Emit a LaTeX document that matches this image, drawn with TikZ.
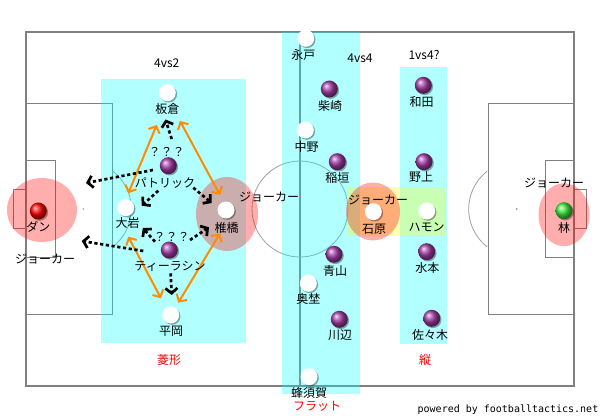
\documentclass[tikz,border=0pt]{standalone}
\usepackage{fontspec}
\newfontfamily\jpf{Noto Sans CJK JP}
\newfontfamily\monof{DejaVu Sans Mono}
\usetikzlibrary{arrows.meta,shadows}
\definecolor{lineg}{RGB}{128,128,128}
\definecolor{thing}{RGB}{160,160,160}
\definecolor{orng}{RGB}{255,140,0}
\definecolor{purp}{RGB}{165,60,165}
\definecolor{grn}{RGB}{60,235,60}
\definecolor{cyn}{RGB}{0,255,255}
\definecolor{ylw}{RGB}{255,255,0}
\definecolor{rd}{RGB}{255,0,0}
\begin{document}
\begin{tikzpicture}[x=1pt,y=-1pt,
  pitchline/.style={draw=lineg, line width=1.1},
  thinline/.style={draw=thing, line width=0.8},
  band/.style={fill=cyn, fill opacity=0.3, draw=none},
  zone/.style={fill=rd, fill opacity=0.32, draw=none},
  yzone/.style={fill=ylw, fill opacity=0.3, draw=none},
  shad/.style={drop shadow={shadow xshift=1.3pt, shadow yshift=-1.3pt, fill=black, opacity=0.35}},
  wball/.style={circle, minimum size=17, inner sep=0, fill=white, shad},
  pball/.style={circle, minimum size=17, inner sep=0, ball color=purp, shad},
  rball/.style={circle, minimum size=17, inner sep=0, ball color=rd, shad},
  gball/.style={circle, minimum size=17, inner sep=0, ball color=grn, shad},
  lbl/.style={font=\jpf\fontsize{12}{14}\selectfont, inner sep=0},
  rlbl/.style={lbl, text=rd},
  oarr/.style={draw=orng, line width=2, {Straight Barb[length=5.5pt,width=12pt]}-{Straight Barb[length=5.5pt,width=12pt]}},
  darr/.style={draw=black, line width=2.7, dash pattern=on 3.2pt off 2.6pt, -{Straight Barb[length=5pt,width=12pt]}}
]
\useasboundingbox (0,0) rectangle (600,417);
\fill[white] (0,0) rectangle (600,417);
% pitch
\draw[pitchline] (26,32) rectangle (574,386);
\draw[pitchline] (300,32) -- (300,386);
\draw[thinline] (300,209) circle (48);
\draw[pitchline] (26,103.3) rectangle (112.7,314.3);
\draw[pitchline] (26,160.3) rectangle (55.3,257.3);
\draw[pitchline] (26,189.3) rectangle (13.3,228.3);
\draw[pitchline] (574,103.3) rectangle (488.7,314.3);
\draw[pitchline] (574,160.3) rectangle (545.7,257.3);
\draw[pitchline] (574,189.3) rectangle (586.7,228.3);
\draw[thinline] (83.3,209) ++(-52.2:48) arc[start angle=-52.2, end angle=52.2, radius=48];
\draw[thinline] (516.7,209) ++(127.8:48) arc[start angle=127.8, end angle=232.2, radius=48];
\fill[lineg] (300,209) circle (1);
\fill[lineg] (83.3,209) circle (0.8);
\fill[lineg] (516.7,209) circle (0.8);
% bands
\fill[band] (101.3,79.3) rectangle (246,342.7);
\fill[band] (282.3,32) rectangle (360,394.3);
\fill[band] (400,67.3) rectangle (446.7,343.5);
\fill[yzone] (347.3,186.7) rectangle (445,235.7);
% joker zones
\fill[zone] (42,210) ellipse [x radius=35, y radius=32];
\fill[zone] (227,214) ellipse [x radius=31, y radius=37];
\fill[zone] (373,211.5) ellipse [x radius=27, y radius=29];
\fill[zone] (564,214.7) ellipse [x radius=25.5, y radius=31.5];
% texts
\node[lbl] (t42) at (166.7,63) {4vs2};
\node[lbl] (t44) at (360,58) {4vs4};
\node[lbl] (t14) at (424,55) {1vs4?};
\node[lbl] (jk1) at (45,259.3) {ジョーカー};
\node[lbl] (jk2) at (269,197) {ジョーカー};
\node[lbl] (jk3) at (378,200) {ジョーカー};
\node[lbl] (jk4) at (554,183) {ジョーカー};
\node[rlbl] (ry1) at (169,360) {菱形};
\node[rlbl] (ry2) at (425,360) {縦};
\node[rlbl] (ry3) at (317,406) {フラット};
\node[font=\monof\fontsize{10}{12}\selectfont, inner sep=0, anchor=east] (pw) at (598.5,410) {powered by footballtactics.net};
\node[lbl] (q1) at (166.7,151.7) {？？？};
\node[lbl] (q2) at (171.7,236.7) {？？？};
% arrows (orange, diamond)
\coordinate (o1a) at (156.7,125); \coordinate (o1b) at (128.3,193.3);
\coordinate (o2a) at (180,121);   \coordinate (o2b) at (220,195);
\coordinate (o3a) at (128.3,236.7); \coordinate (o3b) at (161,298.3);
\coordinate (o4a) at (220,233.3); \coordinate (o4b) at (178.3,302.7);
\draw[oarr] (o1a) -- (o1b);
\draw[oarr] (o2a) -- (o2b);
\draw[oarr] (o3a) -- (o3b);
\draw[oarr] (o4a) -- (o4b);
% dotted arrows
\coordinate (d1a) at (153,170);     \coordinate (d1b) at (86,183);
\coordinate (d2a) at (171.7,139);   \coordinate (d2b) at (165.5,119.5);
\coordinate (d3a) at (158.3,190.7); \coordinate (d3b) at (141.7,205.7);
\coordinate (d4a) at (193.3,187.7); \coordinate (d4b) at (211.7,203);
\coordinate (d5a) at (143.3,251);   \coordinate (d5b) at (81.7,241);
\coordinate (d6a) at (155,241.7);   \coordinate (d6b) at (142.8,228);
\coordinate (d7a) at (190,240);     \coordinate (d7b) at (209,227.3);
\coordinate (d8a) at (170.7,273.3); \coordinate (d8b) at (171.7,295);
\foreach \i in {1,...,8} {\draw[darr] (d\i a) -- (d\i b);}
% players (white)
\node[wball] (itakura) at (167.3,92.7) {};   \node[lbl] (itakuraL) at (167.3,109.3) {板倉};
\node[wball] (oiwa) at (125.7,207.7) {};     \node[lbl] (oiwaL) at (127.7,223) {大岩};
\node[wball] (shiihashi) at (226,210) {};    \node[lbl] (shiihashiL) at (226.7,227.7) {椎橋};
\node[wball] (hiraoka) at (170.7,315) {};    \node[lbl] (hiraokaL) at (171,331.7) {平岡};
\node[wball] (nagato) at (305.7,38.3) {};    \node[lbl] (nagatoL) at (303.3,55) {永戸};
\node[wball] (nakano) at (305.3,130) {};     \node[lbl] (nakanoL) at (306.7,146.7) {中野};
\node[wball] (okuno) at (308.3,283.3) {};    \node[lbl] (okunoL) at (308.3,299.3) {奥埜};
\node[wball] (hachisuka) at (309,376.7) {};  \node[lbl] (hachisukaL) at (309,392.7) {蜂須賀};
\node[wball] (ishihara) at (373.3,211.7) {}; \node[lbl] (ishiharaL) at (374,229.3) {石原};
\node[wball] (hamon) at (426.7,211) {};      \node[lbl] (hamonL) at (426.7,227.7) {ハモン};
\node[gball] (hayashi) at (564,210.7) {};    \node[lbl] (hayashiL) at (564,228.3) {林};
\node[rball] (dan) at (38.3,211) {};         \node[lbl] (danL) at (38.3,226.7) {ダン};
% players (purple)
\node[pball] (patrick) at (168.3,165.7) {};  \node[lbl] (patrickL) at (165,183.3) {パトリック};
\node[pball] (thiti) at (169.3,250) {};      \node[lbl] (thitiL) at (170,266) {ティーラシン};
\node[pball] (shibasaki) at (329.3,89) {};   \node[lbl] (shibasakiL) at (330,106) {柴崎};
\node[pball] (inagaki) at (337.3,161.7) {};  \node[lbl] (inagakiL) at (337.3,178.3) {稲垣};
\node[pball] (aoyama) at (334,254.3) {};     \node[lbl] (aoyamaL) at (335,270.7) {青山};
\node[pball] (kawabe) at (339.3,319.3) {};   \node[lbl] (kawabeL) at (340,335) {川辺};
\node[pball] (wada) at (423.3,85.3) {};      \node[lbl] (wadaL) at (421.7,101.7) {和田};
\node[pball] (nogami) at (424,161.7) {};     \node[lbl] (nogamiL) at (421,177.3) {野上};
\node[pball] (mizumoto) at (426.7,251.7) {}; \node[lbl] (mizumotoL) at (427.3,268.3) {水本};
\node[pball] (sasaki) at (431.7,318.3) {};   \node[lbl] (sasakiL) at (430,335) {佐々木};
\end{tikzpicture}
\end{document}
